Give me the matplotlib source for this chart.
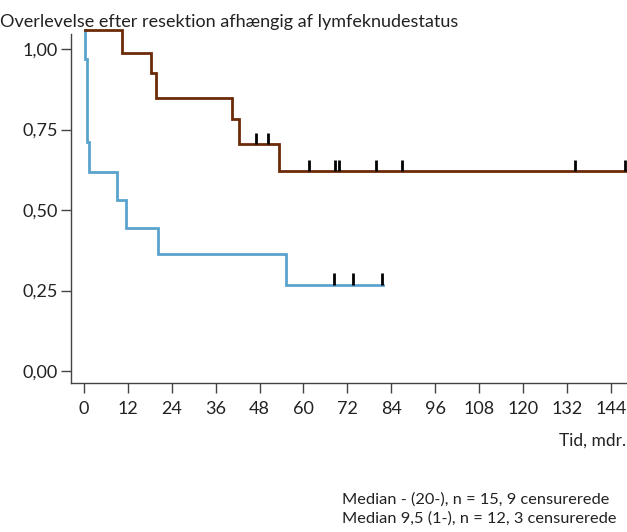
import numpy as np
import matplotlib
matplotlib.use("Agg")
import matplotlib.pyplot as plt

plt.rcParams['font.family'] = ['Lato', 'DejaVu Sans']

title = "Overlevelse efter resektion afhængig af lymfeknudestatus"
xlabel = "Tid, mdr."
legend_lines = ["Median - (20-), n = 15, 9 censurerede",
                "Median 9,5 (1-), n = 12, 3 censurerede"]

# Node-negative (brown) step curve
brown_t = [0.3, 10.5, 18.2, 19.8, 40.4, 42.5, 53.2, 148.2]
brown_s = [1.059, 0.989, 0.925, 0.847, 0.782, 0.704, 0.621, 0.621]
brown_cens = [46.9, 50.2, 61.6, 68.7, 69.8, 79.7, 87.0, 134.2, 148.0]

# Node-positive (blue) step curve
blue_t = [0.3, 0.3, 0.7, 1.45, 9.1, 11.4, 20.3, 55.1, 81.7]
blue_s = [1.059, 0.969, 0.712, 0.619, 0.531, 0.444, 0.363, 0.268, 0.268]
blue_cens = [68.3, 73.5, 81.5]

xticks = list(range(0, 145, 12))
yticks = [0.0, 0.25, 0.5, 0.75, 1.0]
ytick_labels = ["0,00", "0,25", "0,50", "0,75", "1,00"]

BROWN = "#6B2A08"
BLUE = "#5AA3CE"

W, H = 627, 532
fig = plt.figure(figsize=(W / 100, H / 100), dpi=100)
ax = fig.add_axes([70.7 / W, (H - 382.7) / H, (W - 70.7) / W, (382.7 - 34.3) / H])

x0, xk = 84.0, 3.658
y0, yk = 371.0, 322.0
ax.set_xlim((70.7 - x0) / xk, (627 - x0) / xk)
ax.set_ylim(-(382.7 - y0) / yk, 1 + (49 - 34.3) / yk)


def level(ts, ss, t):
    idx = np.searchsorted(np.array(ts), t, side='right') - 1
    return ss[max(idx, 0)]


ax.step(blue_t, blue_s, where='post', color=BLUE, lw=2.0, clip_on=False,
        solid_joinstyle='miter', zorder=3)
ax.step(brown_t, brown_s, where='post', color=BROWN, lw=2.0, clip_on=False,
        solid_joinstyle='miter', zorder=4)

mark_h = 11.5 / yk
for ts, ss, cens in [(brown_t, brown_s, brown_cens), (blue_t, blue_s, blue_cens)]:
    for c in cens:
        lv = level(ts, ss, c)
        ax.vlines(c, lv, lv + mark_h, color="black", lw=2.0, clip_on=False, zorder=5)

for s in ['top', 'right']:
    ax.spines[s].set_visible(False)
for s in ['left', 'bottom']:
    ax.spines[s].set_color('#444444')
    ax.spines[s].set_linewidth(1.0)

ax.set_xticks(xticks)
ax.set_xticklabels([str(v) for v in xticks])
ax.set_yticks(yticks)
ax.set_yticklabels(ytick_labels)
ax.tick_params(axis='both', direction='out', length=7, width=1.0, color='#444444',
               labelsize=13, labelcolor='#222222')
ax.tick_params(axis='x', pad=6)
ax.tick_params(axis='y', pad=2)

fig.text(0.0, 1 - 22 / H, title, ha='left', va='center', fontsize=13, color='#222222')
fig.text(626 / W, 1 - 441 / H, xlabel, ha='right', va='center', fontsize=12.5, color='#222222')
fig.text(342 / W, 1 - 500 / H, legend_lines[0], ha='left', va='center', fontsize=11.8, color='#222222')
fig.text(342 / W, 1 - 519 / H, legend_lines[1], ha='left', va='center', fontsize=11.8, color='#222222')

fig.savefig("out.png", dpi=100)
